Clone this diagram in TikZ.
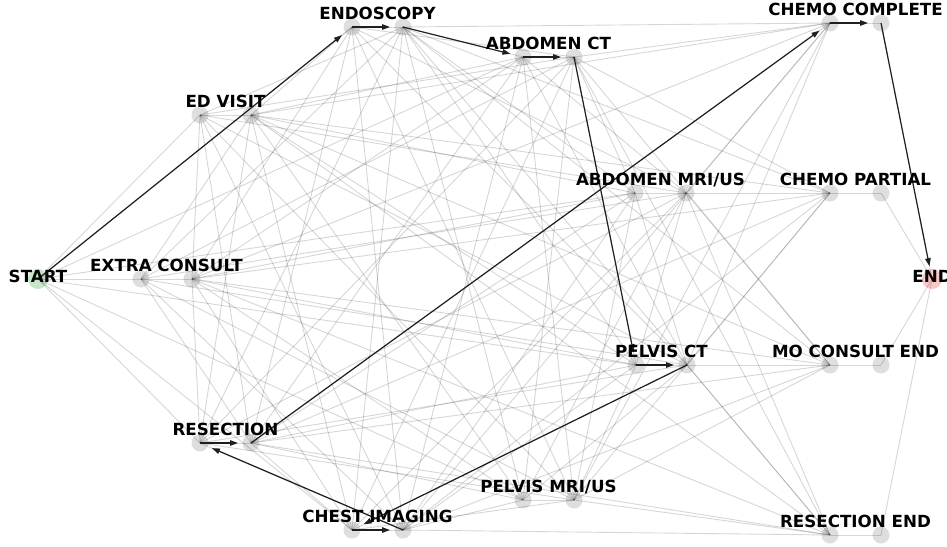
\documentclass[tikz,border=0pt]{standalone}
\usepackage{fontspec}
\setmainfont{DejaVu Sans}
\usetikzlibrary{arrows.meta}
\definecolor{startgreen}{RGB}{198,230,198}
\definecolor{endred}{RGB}{250,198,198}
\tikzset{x=1pt, y=-1pt,
    state/.style={circle, inner sep=0pt, minimum size=17pt, fill=black!13},
    terminal/.style={state, minimum size=20pt},
    edge/.style={draw=black, draw opacity=0.16, line width=0.9pt},
    walk/.style={draw=black!88, line width=1.2pt, shorten >=13pt,
        -{Triangle[length=8pt,width=5.5pt]}},
    lbl/.style={font=\bfseries\fontsize{16.7}{20}\selectfont, inner sep=0pt, anchor=base},
    }
% name/x/y/label of the left node of each pair
\def\steps{endo/352/27/ENDOSCOPY, edv/200/115/ED VISIT, extra/141/279/EXTRA CONSULT,
    resec/200/443/RESECTION, chest/352/530/CHEST IMAGING, abct/523/57/ABDOMEN CT,
    abmri/635/193/{ABDOMEN MRI/US}, pelct/636/365/PELVIS CT, pelmri/523/500/{PELVIS MRI/US},
    chemoc/830/23/CHEMO COMPLETE, chemop/830/193/CHEMO PARTIAL,
    mocons/830/365/MO CONSULT END, resend/830/535/RESECTION END}
\def\inner{endo,edv,extra,resec,chest,abct,abmri,pelct,pelmri}
\def\finals{chemoc,chemop,mocons,resend}
\def\allin{endo,edv,extra,resec,chest,abct,abmri,pelct,pelmri,chemoc,chemop,mocons,resend}

\begin{document}
\begin{tikzpicture}
\useasboundingbox (0,0) rectangle (947,546);
\node[terminal, fill=startgreen] (start) at (38,279) {};
\node[terminal, fill=endred] (fin) at (932,279) {};
\foreach \n/\x/\y/\l in \steps {
    \node[state] (\n-in) at (\x,\y) {};
    \node[state] (\n-out) at (\x+51,\y) {};
}
% all transitions
\foreach \n in \allin {\draw[edge] (\n-in.center) -- (\n-out.center);}
\foreach \n in \inner {\draw[edge] (start.center) -- (\n-in.center);}
\foreach \n in \finals {\draw[edge] (\n-out.center) -- (fin.center);}
\foreach \s in \inner {
    \foreach \t in \allin {
        \edef\sa{\s}\edef\ta{\t}%
        \ifx\sa\ta\else\draw[edge] (\s-out.center) -- (\t-in.center);\fi
    }
}
% the highlighted path
\foreach \a/\b in {start/endo-in, endo-in/endo-out, endo-out/abct-in, abct-in/abct-out,
    abct-out/pelct-in, pelct-in/pelct-out, pelct-out/chest-in, chest-in/chest-out,
    chest-out/resec-in, resec-in/resec-out, resec-out/chemoc-in, chemoc-in/chemoc-out,
    chemoc-out/fin}
    {\draw[walk] (\a.center) -- (\b.center);}
% labels
\node[lbl] (start-lbl) at (38,282.5) {START};
\node[lbl] (fin-lbl) at (932,282.5) {END};
\foreach \n/\x/\y/\l in \steps {
    \node[lbl] (\n-lbl) at (\x+25.5,\y-7.5) {\l};
}
\end{tikzpicture}
\end{document}
